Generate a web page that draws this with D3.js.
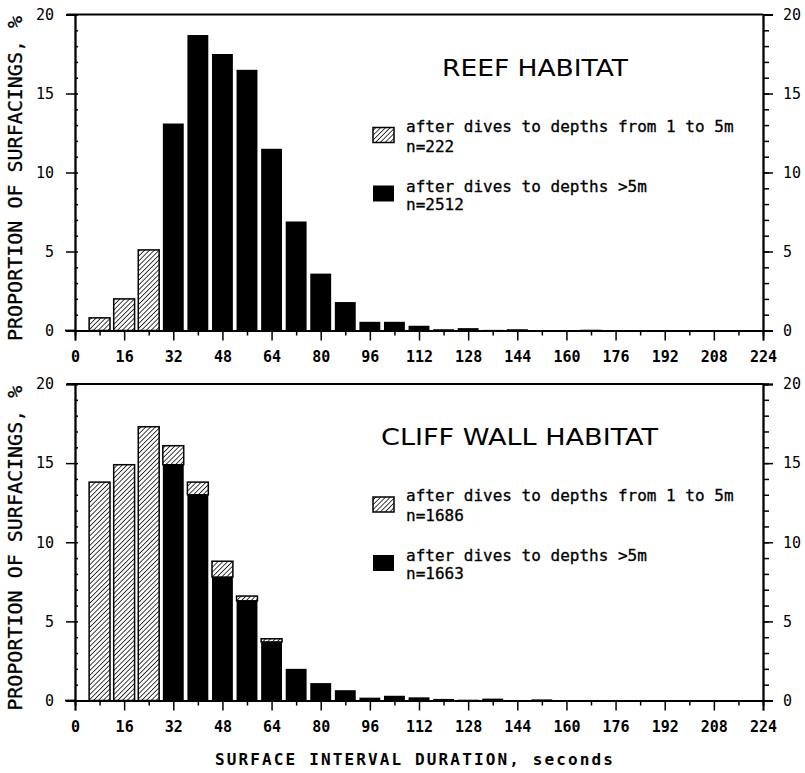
<!DOCTYPE html>
<meta charset="UTF-8">
<head>
<script src="https://d3js.org/d3.v7.min.js"></script>
</head>
<style>
body { margin: 0; background: #fff; }
svg { display: block; }
.lbl { font-family: "DejaVu Sans Mono", monospace; fill: #000; }
</style>
<body>
<div id="chart"></div>
<script>

// bin centres (seconds)
var bins = [8,16,24,32,40,48,56,64,72,80,88,96,104,112,120,128,136,144,152,160,168,176,184,192,200,208];

// reef habitat, % of surfacings
var reefShallow = [0.8,2.0,5.1,0,0,0,0,0,0,0,0,0,0,0,0,0,0,0,0,0,0,0,0,0,0,0];
var reefDeep    = [0,0,0,13.1,18.7,17.5,16.5,11.5,6.9,3.6,1.8,0.55,0.55,0.3,0.08,0.15,0.04,0.08,0.03,0.02,0.05,0.02,0.02,0.02,0.03,0.02];

// cliff wall habitat, % of surfacings
var cliffShallow = [13.8,14.9,17.3,1.2,0.8,1.0,0.3,0.2,0,0,0,0,0,0,0,0,0,0,0,0,0,0,0,0,0,0];
var cliffDeep    = [0,0,0,14.9,13.0,7.8,6.3,3.7,2.0,1.1,0.65,0.18,0.3,0.2,0.1,0.05,0.12,0.03,0.07,0.02,0.02,0.02,0.01,0.01,0.01,0.01];

var xTicks = d3.range(0, 225, 16);
var yTicks = [0,5,10,15,20];

var panels = [
  {title: "REEF HABITAT", titleX: 442, titleW: 186, shallow: reefShallow, deep: reefDeep,
   nShallow: "n=222", nDeep: "n=2512", top: 14.5, bottom: 330.5},
  {title: "CLIFF WALL HABITAT", titleX: 381, titleW: 277, shallow: cliffShallow, deep: cliffDeep,
   nShallow: "n=1686", nDeep: "n=1663", top: 384, bottom: 700.5}
];

var W = 805, H = 773;
var svg = d3.select("#chart").append("svg")
    .attr("width", W).attr("height", H);

// hatch pattern (///)
svg.append("defs").append("pattern")
    .attr("id", "hatch")
    .attr("patternUnits", "userSpaceOnUse")
    .attr("width", 3.4).attr("height", 3.4)
    .attr("patternTransform", "rotate(45)")
  .append("line")
    .attr("x1", 0).attr("y1", 0).attr("x2", 0).attr("y2", 3.4)
    .attr("stroke", "#000").attr("stroke-width", 1.5);

var x = d3.scaleLinear().domain([0, 224]).range([75, 763]);
var halfW = 3.4;

panels.forEach(function(p) {
  var y = d3.scaleLinear().domain([0, 20]).range([p.bottom, p.top]);
  var g = svg.append("g");

  // bars: deep (black) at the bottom, shallow (hatched) stacked on top
  var rows = bins.map(function(b, i) {
    return {bin: b, deep: p.deep[i], shallow: p.shallow[i]};
  });

  g.selectAll("rect.deep")
    .data(rows.filter(function(d) { return d.deep > 0; }))
    .enter().append("rect")
      .attr("class", "deep")
      .attr("x", function(d) { return x(d.bin - halfW); })
      .attr("width", function(d) { return x(d.bin + halfW) - x(d.bin - halfW); })
      .attr("y", function(d) { return y(d.deep); })
      .attr("height", function(d) { return y(0) - y(d.deep); })
      .attr("fill", "#000");

  g.selectAll("rect.shallow")
    .data(rows.filter(function(d) { return d.shallow > 0; }))
    .enter().append("rect")
      .attr("class", "shallow")
      .attr("x", function(d) { return x(d.bin - halfW); })
      .attr("width", function(d) { return x(d.bin + halfW) - x(d.bin - halfW); })
      .attr("y", function(d) { return y(d.deep + d.shallow); })
      .attr("height", function(d) { return y(d.deep) - y(d.deep + d.shallow); })
      .attr("fill", "url(#hatch)")
      .attr("stroke", "#000").attr("stroke-width", 1.5);

  // top frame line
  g.append("line")
    .attr("x1", 67).attr("x2", x(224))
    .attr("y1", y(20)).attr("y2", y(20))
    .attr("stroke", "#000").attr("stroke-width", 1.8);

  // x axis: major every 16, minor every 8
  g.append("g")
      .attr("transform", "translate(0," + y(0) + ")")
      .call(d3.axisBottom(x).tickValues(d3.range(8, 224, 16)).tickSize(5).tickFormat(""));
  var xMajor = g.append("g")
      .attr("transform", "translate(0," + y(0) + ")")
      .call(d3.axisBottom(x).tickValues(xTicks).tickSize(10));
  xMajor.selectAll("text")
      .attr("class", "lbl")
      .attr("y", 31).attr("dy", 0)
      .style("font-size", "15px").style("font-weight", "bold");

  // left axis
  g.append("g")
      .attr("transform", "translate(" + x(0) + ",0)")
      .call(d3.axisLeft(y).tickValues(d3.range(0, 21)).tickSize(-3).tickFormat(""));
  var yMajorL = g.append("g")
      .attr("transform", "translate(" + x(0) + ",0)")
      .call(d3.axisLeft(y).tickValues(yTicks).tickSize(9).tickPadding(12));
  yMajorL.selectAll("text").attr("class", "lbl").style("font-size", "15px");

  // right axis
  g.append("g")
      .attr("transform", "translate(" + x(224) + ",0)")
      .call(d3.axisRight(y).tickValues(d3.range(0, 21)).tickSize(6).tickFormat(""));
  var yMajorR = g.append("g")
      .attr("transform", "translate(" + x(224) + ",0)")
      .call(d3.axisRight(y).tickValues(yTicks).tickSize(10).tickPadding(10));
  yMajorR.selectAll("text").attr("class", "lbl").style("font-size", "15px");

  g.selectAll(".domain").attr("stroke-width", 1.8);
  g.selectAll(".tick line").attr("stroke-width", 1.5);
  // x axis extends a little past the left axis
  g.append("line")
    .attr("x1", 65).attr("x2", x(0))
    .attr("y1", y(0)).attr("y2", y(0))
    .attr("stroke", "#000").attr("stroke-width", 1.8);

  // title
  g.append("text")
    .attr("x", p.titleX).attr("y", p.top + 61)
    .attr("textLength", p.titleW)
    .attr("lengthAdjust", "spacingAndGlyphs")
    .style("font-family", "'DejaVu Sans', sans-serif")
    .style("font-size", "23px")
    .text(p.title);

  // legend
  var leg = g.append("g").attr("transform", "translate(373," + p.top + ")");
  leg.append("rect").attr("x", 0).attr("y", 113).attr("width", 21).attr("height", 15)
    .attr("fill", "url(#hatch)").attr("stroke", "#000").attr("stroke-width", 1.5);
  leg.append("rect").attr("x", 0).attr("y", 171).attr("width", 21).attr("height", 16)
    .attr("fill", "#000");
  var lines = [
    {t: "after dives to depths from 1 to 5m", y: 117},
    {t: p.nShallow, y: 137},
    {t: "after dives to depths >5m", y: 177},
    {t: p.nDeep, y: 195}
  ];
  leg.selectAll("text.leg")
    .data(lines)
    .enter().append("text")
      .attr("class", "lbl leg")
      .attr("x", 33).attr("y", function(d) { return d.y; })
      .style("font-size", "16px")
      .attr("stroke", "#000").attr("stroke-width", 0.3)
      .text(function(d) { return d.t; });

  // y axis title
  g.append("text")
    .attr("class", "lbl")
    .attr("transform", "translate(22," + ((p.top + p.bottom) / 2 + 6) + ") rotate(-90)")
    .attr("text-anchor", "middle")
    .style("font-size", "20px")
    .attr("stroke", "#000").attr("stroke-width", 0.3)
    .text("PROPORTION OF SURFACINGS, %");
});

// x axis title
svg.append("text")
  .attr("class", "lbl")
  .attr("x", 414).attr("y", 765)
  .attr("text-anchor", "middle")
  .attr("textLength", 398).attr("lengthAdjust", "spacing")
  .style("font-size", "16px").style("font-weight", "bold")
  .text("SURFACE INTERVAL DURATION, seconds");

</script>
</body>
